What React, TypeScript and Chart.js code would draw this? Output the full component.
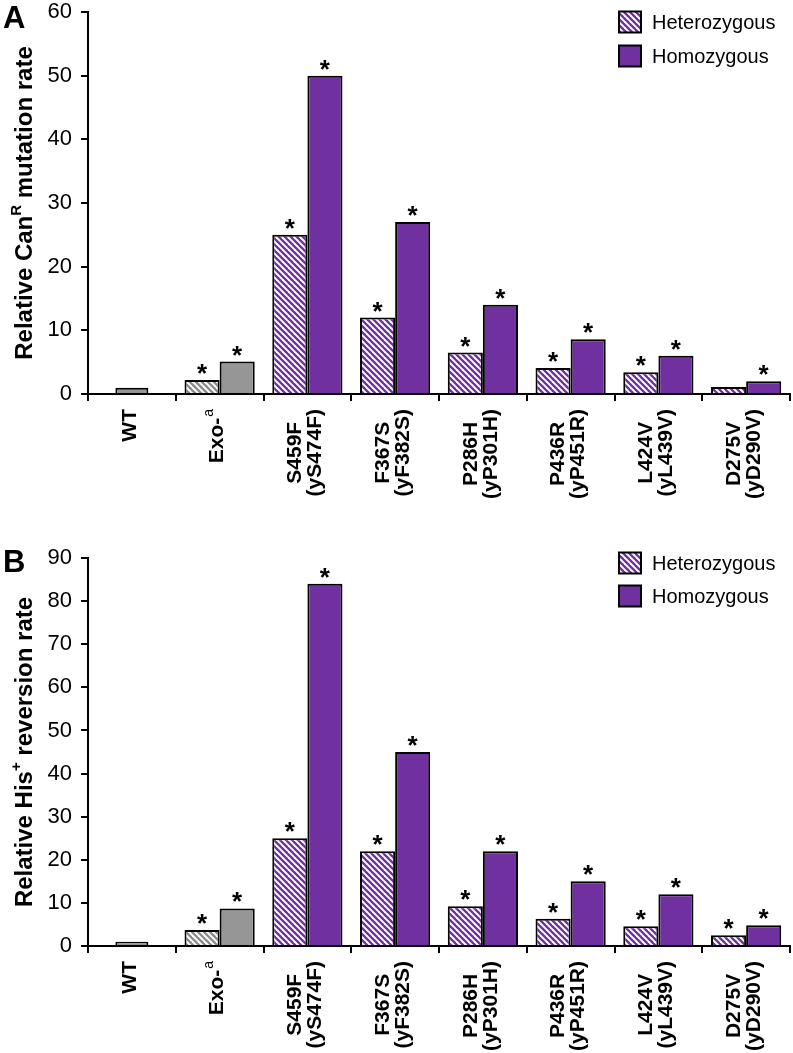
import React, { useEffect, useRef } from "react";
import { Chart, registerables } from "chart.js";

Chart.register(...registerables);

// ---------- data ----------
const categoryLines: string[][] = [
  ["WT"],
  ["Exo-"],
  ["S459F", "(yS474F)"],
  ["F367S", "(yF382S)"],
  ["P286H", "(yP301H)"],
  ["P436R", "(yP451R)"],
  ["L424V", "(yL439V)"],
  ["D275V", "(yD290V)"],
];
const categorySup: string[] = ["", "a", "", "", "", "", "", ""];
const controlCategories: string[] = ["WT", "Exo-"];

const seriesNames = ["Heterozygous", "Homozygous"];

// Panel A: Can^R mutation rate
const wtA = [1, null, null, null, null, null, null, null];
const hetA = [null, 2.2, 25, 12, 6.5, 4.1, 3.4, 1.1];
const homA = [null, 5.1, 50, 27, 14, 8.6, 6.0, 2.0];
const starHetA = [false, true, true, true, true, true, true, false];
const starHomA = [false, true, true, true, true, true, true, true];
const yTicksA = { max: 60, step: 10 };

// Panel B: His+ reversion rate
const wtB = [1, null, null, null, null, null, null, null];
const hetB = [null, 3.7, 25, 22, 9.2, 6.3, 4.6, 2.5];
const homB = [null, 8.7, 84, 45, 22, 15, 12, 4.8];
const starHetB = [false, true, true, true, true, true, true, true];
const starHomB = [false, true, true, true, true, true, true, true];
const yTicksB = { max: 90, step: 10 };

// ---------- styles ----------
const FONT = "'Liberation Sans', Arial, sans-serif";
const PURPLE = "#7030A0";
const GRAY = "#969696";
const HATCH_GRAY = "#8a8a8a";

function makeHatch(color: string): CanvasPattern {
  const s = 6;
  const c = document.createElement("canvas");
  c.width = s;
  c.height = s;
  const g = c.getContext("2d")!;
  g.fillStyle = "#ffffff";
  g.fillRect(0, 0, s, s);
  g.strokeStyle = color;
  g.lineWidth = 2.3;
  for (const k of [-s, 0, s]) {
    g.beginPath();
    g.moveTo(-2, -2 + k);
    g.lineTo(s + 2, s + 2 + k);
    g.stroke();
  }
  return g.createPattern(c, "repeat")!;
}

type PanelSpec = {
  letter: string;
  letterBaseline: number;
  title: [string, string, string];
  wt: (number | null)[];
  het: (number | null)[];
  hom: (number | null)[];
  starHet: boolean[];
  starHom: boolean[];
  ticks: { max: number; step: number };
  top: number;
  height: number;
  areaTop: number;
  areaBottom: number;
  legendRow1: number;
  legendRow2: number;
};

const panels: PanelSpec[] = [
  {
    letter: "A",
    letterBaseline: 28,
    title: ["Relative Can", "R", " mutation rate"],
    wt: wtA,
    het: hetA,
    hom: homA,
    starHet: starHetA,
    starHom: starHomA,
    ticks: yTicksA,
    top: 0,
    height: 530,
    areaTop: 12,
    areaBottom: 394,
    legendRow1: 22,
    legendRow2: 56,
  },
  {
    letter: "B",
    letterBaseline: 42,
    title: ["Relative His", "+", " reversion rate"],
    wt: wtB,
    het: hetB,
    hom: homB,
    starHet: starHetB,
    starHom: starHomB,
    ticks: yTicksB,
    top: 530,
    height: 523,
    areaTop: 28,
    areaBottom: 416,
    legendRow1: 33,
    legendRow2: 66,
  },
];

function Panel({ p }: { p: PanelSpec }) {
  const ref = useRef<HTMLCanvasElement | null>(null);

  useEffect(() => {
    const canvas = ref.current!;
    const hatchPurple = makeHatch(PURPLE);
    const hatchGray = makeHatch(HATCH_GRAY);
    const isControl = (i: number) => controlCategories.includes(categoryLines[i][0]);

    const decorations = {
      id: "decorations",
      afterDraw(chart: any) {
        const ctx: CanvasRenderingContext2D = chart.ctx;
        const area = chart.chartArea;
        ctx.save();
        ctx.fillStyle = "#000";

        // asterisks
        ctx.font = `bold 26px ${FONT}`;
        ctx.textAlign = "center";
        ctx.textBaseline = "alphabetic";
        const stars = [p.starHet, p.starHom];
        [0, 1].forEach((di) => {
          const meta = chart.getDatasetMeta(di);
          meta.data.forEach((bar: any, i: number) => {
            if (!stars[di][i]) return;
            ctx.fillText("*", bar.x, bar.y + 2);
          });
        });

        // legend
        const bx = 619;
        const rows = [p.legendRow1, p.legendRow2];
        const fills: (string | CanvasPattern)[] = [hatchPurple, PURPLE];
        rows.forEach((cy, k) => {
          ctx.fillStyle = fills[k];
          ctx.fillRect(bx, cy - 10.5, 22, 21);
          ctx.strokeStyle = "#000";
          ctx.lineWidth = 2;
          ctx.strokeRect(bx, cy - 10.5, 22, 21);
          ctx.fillStyle = "#000";
          ctx.font = `20px ${FONT}`;
          ctx.textAlign = "left";
          ctx.textBaseline = "middle";
          ctx.fillText(seriesNames[k], 652, cy + 1);
        });

        // panel letter
        ctx.font = `bold 31px ${FONT}`;
        ctx.textAlign = "left";
        ctx.textBaseline = "alphabetic";
        ctx.fillText(p.letter, 3, p.letterBaseline);

        // y-axis title with superscript
        ctx.save();
        ctx.translate(25, (area.top + area.bottom) / 2);
        ctx.rotate(-Math.PI / 2);
        const mainFont = `bold 24px ${FONT}`;
        const supFont = `bold 15px ${FONT}`;
        ctx.font = mainFont;
        const w0 = ctx.measureText(p.title[0]).width;
        const w2 = ctx.measureText(p.title[2]).width;
        ctx.font = supFont;
        const w1 = ctx.measureText(p.title[1]).width;
        const x0 = -(w0 + w1 + w2) / 2;
        ctx.textAlign = "left";
        ctx.textBaseline = "middle";
        ctx.font = mainFont;
        ctx.fillText(p.title[0], x0, 0);
        ctx.font = supFont;
        ctx.fillText(p.title[1], x0 + w0, -8);
        ctx.font = mainFont;
        ctx.fillText(p.title[2], x0 + w0 + w1, 0);
        ctx.restore();

        // category labels (rotated, centred lines, block ending at axis)
        const xs = chart.scales.x;
        const yTop = area.bottom + 15;
        const lblFont = `bold 21px ${FONT}`;
        const supLbl = `14px ${FONT}`;
        const lh = 20;
        categoryLines.forEach((lines, i) => {
          const cx = xs.getPixelForValue(i);
          ctx.save();
          ctx.translate(cx, yTop);
          ctx.rotate(-Math.PI / 2);
          ctx.font = lblFont;
          const widths = lines.map((l) => ctx.measureText(l).width);
          const sup = categorySup[i];
          ctx.font = supLbl;
          const supW = sup ? ctx.measureText(sup).width + 1 : 0;
          const maxW = Math.max(...widths) + supW;
          ctx.textBaseline = "middle";
          lines.forEach((l, k) => {
            const off = (k - (lines.length - 1) / 2) * lh - 2;
            ctx.font = lblFont;
            ctx.textAlign = "left";
            const start = -maxW + (maxW - supW - widths[k]) / 2;
            ctx.fillText(l, start, off);
            if (sup && k === lines.length - 1) {
              ctx.font = supLbl;
              ctx.fillText(sup, start + widths[k] + 1, off - 8);
            }
          });
          ctx.restore();
        });

        ctx.restore();
      },
    };

    const chart = new Chart(canvas, {
      type: "bar",
      data: {
        labels: categoryLines.map((l, i) => l.join(" ") + categorySup[i]),
        datasets: [
          {
            label: seriesNames[0],
            data: p.het,
            backgroundColor: p.het.map((_, i) => (isControl(i) ? hatchGray : hatchPurple)),
            borderColor: "#000",
            borderWidth: 2,
            categoryPercentage: 0.8,
            barPercentage: 1.0,
          },
          {
            label: seriesNames[1],
            data: p.hom,
            backgroundColor: p.hom.map((_, i) => (isControl(i) ? GRAY : PURPLE)),
            borderColor: "#000",
            borderWidth: 2,
            categoryPercentage: 0.8,
            barPercentage: 1.0,
          },
          {
            label: "WT",
            data: p.wt,
            backgroundColor: GRAY,
            borderColor: "#000",
            borderWidth: 2,
            grouped: false,
            categoryPercentage: 0.8,
            barPercentage: 0.47,
          } as any,
        ],
      },
      options: {
        responsive: false,
        animation: false,
        devicePixelRatio: 1,
        layout: { padding: { top: p.areaTop, right: 3, left: 0, bottom: 0 } },
        plugins: {
          legend: { display: false },
          tooltip: { enabled: false },
          title: { display: false },
        },
        scales: {
          x: {
            grid: {
              offset: true,
              drawOnChartArea: false,
              color: "#000",
              lineWidth: 2,
              tickLength: 7,
            },
            border: { color: "#000", width: 2 },
            ticks: { display: false },
            afterFit: (s: any) => {
              s.height = p.height - p.areaBottom;
              s.paddingLeft = 0;
              s.paddingRight = 0;
            },
          },
          y: {
            min: 0,
            max: p.ticks.max,
            ticks: {
              stepSize: p.ticks.step,
              color: "#000",
              font: { family: FONT, size: 22 },
              padding: 9,
            },
            grid: {
              drawOnChartArea: false,
              color: "#000",
              lineWidth: 2,
              tickLength: 7,
            },
            border: { color: "#000", width: 2 },
            afterFit: (s: any) => {
              s.width = 88;
              s.paddingTop = 0;
              s.paddingBottom = 0;
            },
          },
        },
      } as any,
      plugins: [decorations],
    });

    return () => chart.destroy();
  }, [p]);

  return (
    <canvas
      ref={ref}
      width={793}
      height={p.height}
      style={{ position: "absolute", left: 0, top: p.top, display: "block" }}
    />
  );
}

export default function App() {
  return (
    <div style={{ position: "absolute", left: 0, top: 0, width: 793, height: 1053, background: "#fff" }}>
      {panels.map((p) => (
        <Panel key={p.letter} p={p} />
      ))}
    </div>
  );
}
